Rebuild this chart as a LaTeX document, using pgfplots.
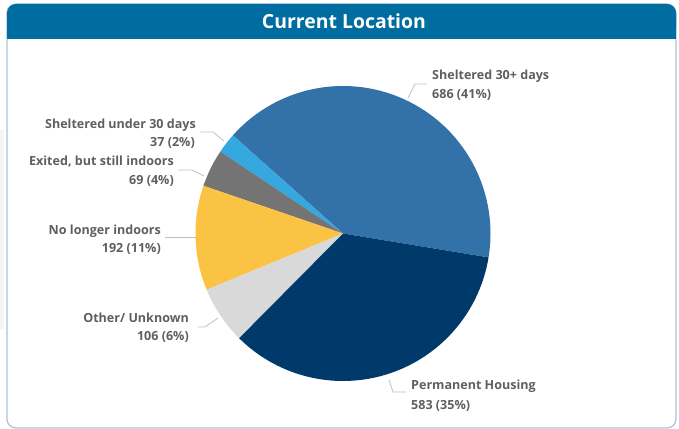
\documentclass[border=0pt]{standalone}
\usepackage{pgfplots}
\pgfplotsset{compat=1.18}
\usepackage{fontspec}
\setmainfont{Open Sans}
\definecolor{hdr}{HTML}{006DA0}
\definecolor{frm}{HTML}{A9C4D6}
\definecolor{cA}{HTML}{3371A9}
\definecolor{cB}{HTML}{35A9DF}
\definecolor{cC}{HTML}{747474}
\definecolor{cD}{HTML}{FBC343}
\definecolor{cE}{HTML}{D9D9D9}
\definecolor{cF}{HTML}{003A6B}
\definecolor{txt}{HTML}{5F5F5F}
\definecolor{lead}{HTML}{BFBFBF}
% values
\def\vA{686}\def\vB{37}\def\vC{69}\def\vD{192}\def\vE{106}\def\vF{583}
\pgfmathsetmacro\tot{\vA+\vB+\vC+\vD+\vE+\vF}
\pgfmathsetmacro\aO{-9.3}
\pgfmathsetmacro\aA{\aO+360*(\vA/\tot)}
\pgfmathsetmacro\aB{\aA+360*(\vB/\tot)}
\pgfmathsetmacro\aC{\aB+360*(\vC/\tot)}
\pgfmathsetmacro\aD{\aC+360*(\vD/\tot)}
\pgfmathsetmacro\aE{\aD+360*(\vE/\tot)}
\pgfmathsetmacro\aF{\aE+360*(\vF/\tot)}
\def\cx{343}\def\cy{195.5}\def\R{147.5}
\begin{document}
\begin{tikzpicture}
\begin{axis}[scale only axis, width=679bp, height=429bp,
  xmin=0, xmax=679, ymin=0, ymax=429, hide axis, clip=false,
  every axis plot/.append style={draw=none}]
\path (axis cs:0,0) rectangle (axis cs:679,429);
% faint neighbouring panel
\fill[black!4] (axis cs:0,100) rectangle (axis cs:4,300);
% frame
\draw[frm, line width=1.2bp, rounded corners=9bp] (axis cs:7,1) rectangle (axis cs:676,425);
\fill[hdr, rounded corners=9bp] (axis cs:7,390) rectangle (axis cs:676,425);
\fill[hdr] (axis cs:7,390) rectangle (axis cs:676,405);
\node[anchor=base, text=white, font=\fontsize{19.5}{24}\selectfont\bfseries] at (axis cs:344,400) {Current Location};
% pie
\addplot[fill=cA, domain=\aO:\aA, samples=80, variable=\t] ({\cx+\R*cos(\t)}, {\cy+\R*sin(\t)}) -- (axis cs:\cx,\cy) -- cycle;
\addplot[fill=cB, domain=\aA:\aB, samples=10, variable=\t] ({\cx+\R*cos(\t)}, {\cy+\R*sin(\t)}) -- (axis cs:\cx,\cy) -- cycle;
\addplot[fill=cC, domain=\aB:\aC, samples=12, variable=\t] ({\cx+\R*cos(\t)}, {\cy+\R*sin(\t)}) -- (axis cs:\cx,\cy) -- cycle;
\addplot[fill=cD, domain=\aC:\aD, samples=30, variable=\t] ({\cx+\R*cos(\t)}, {\cy+\R*sin(\t)}) -- (axis cs:\cx,\cy) -- cycle;
\addplot[fill=cE, domain=\aD:\aE, samples=20, variable=\t] ({\cx+\R*cos(\t)}, {\cy+\R*sin(\t)}) -- (axis cs:\cx,\cy) -- cycle;
\addplot[fill=cF, domain=\aE:\aF, samples=70, variable=\t] ({\cx+\R*cos(\t)}, {\cy+\R*sin(\t)}) -- (axis cs:\cx,\cy) -- cycle;
% leaders
\draw[lead, line width=0.8bp] (axis cs:408,331) -- (axis cs:415,345) -- (axis cs:427,345);
\draw[lead, line width=0.8bp] (axis cs:389,49) -- (axis cs:393,37) -- (axis cs:406,37);
\draw[lead, line width=0.8bp] (axis cs:200,297) -- (axis cs:213,297) -- (axis cs:224,288);
\draw[lead, line width=0.8bp] (axis cs:178,259) -- (axis cs:192,259) -- (axis cs:204,253);
\draw[lead, line width=0.8bp] (axis cs:165,192) -- (axis cs:196,192);
\draw[lead, line width=0.8bp] (axis cs:198,102) -- (axis cs:205,102) -- (axis cs:218,111);
% labels
\tikzset{lab/.style={text=txt, inner sep=0pt, font=\fontsize{12.6}{14}\selectfont\bfseries}}
\node[lab, anchor=base west] at (axis cs:432,349) {Sheltered 30+ days};
\node[lab, anchor=base west] at (axis cs:432,330) {686 (41\%)};
\node[lab, anchor=base west] at (axis cs:411,39) {Permanent Housing};
\node[lab, anchor=base west] at (axis cs:411,20) {583 (35\%)};
\node[lab, anchor=base east] at (axis cs:196,300) {Sheltered under 30 days};
\node[lab, anchor=base east] at (axis cs:195,282) {37 (2\%)};
\node[lab, anchor=base east] at (axis cs:174,263) {Exited, but still indoors};
\node[lab, anchor=base east] at (axis cs:174,244) {69 (4\%)};
\node[lab, anchor=base east] at (axis cs:161,194) {No longer indoors};
\node[lab, anchor=base east] at (axis cs:161,176) {192 (11\%)};
\node[lab, anchor=base east] at (axis cs:189,106) {Other/ Unknown};
\node[lab, anchor=base east] at (axis cs:189,88) {106 (6\%)};
\end{axis}
\end{tikzpicture}
\end{document}
